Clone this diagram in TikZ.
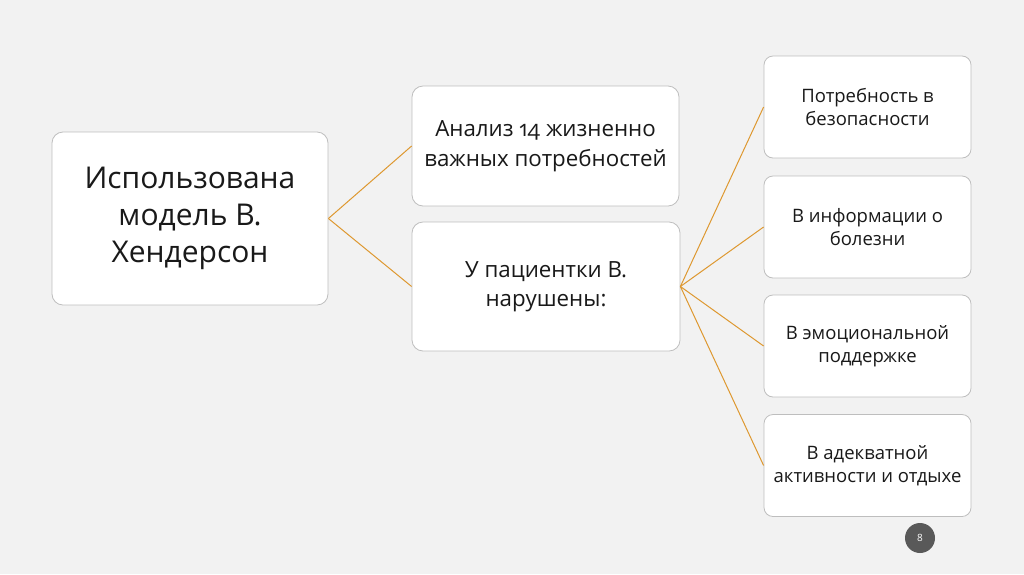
\documentclass[tikz,border=0pt]{standalone}
\usepackage{fontspec}
\setmainfont[Numbers=OldStyle]{Open Sans}
\definecolor{bg}{RGB}{242,242,242}
\definecolor{edge}{RGB}{190,190,190}
\definecolor{link}{RGB}{222,152,48}
\definecolor{pg}{RGB}{89,89,89}
\begin{document}
\begin{tikzpicture}[x=1pt,y=-1pt,
  box/.style={draw=edge,line width=0.8pt,fill=white,rounded corners=11pt,align=center,inner sep=0pt,text=black!90},
  bigbox/.style={box,minimum width=276pt,minimum height=173pt,font=\fontsize{30}{37}\selectfont},
  midbox/.style={box,minimum width=267pt,font=\fontsize{22.3}{29.5}\selectfont},
  smallbox/.style={box,minimum width=207pt,minimum height=102pt,rounded corners=9pt,font=\fontsize{18.5}{23}\selectfont},
  conn/.style={draw=link,line width=1pt}]
\fill[bg] (0,0) rectangle (1024,574);
\useasboundingbox (0,0) rectangle (1024,574);
\node[bigbox] (main) at (190,218.5) {Использована\\модель В.\\Хендерсон};
\node[midbox,minimum height=120pt] (anal) at (545.5,146) {Анализ 14 жизненно\\важных потребностей};
\node[midbox,minimum height=129pt,minimum width=268pt] (pat) at (546,286.5) {У пациентки В.\\нарушены:};
\node[smallbox] (r1) at (867.5,107) {Потребность в\\безопасности};
\node[smallbox] (r2) at (867.5,227) {В информации о\\болезни};
\node[smallbox] (r3) at (867.5,346) {В эмоциональной\\поддержке};
\node[smallbox] (r4) at (867.5,465.5) {В адекватной\\активности и отдыхе};
\draw[conn] (main.east) -- (anal.west);
\draw[conn] (main.east) -- (pat.west);
\foreach \r in {r1,r2,r3,r4}{\draw[conn] (pat.east) -- (\r.west);}
\node[circle,fill=pg,minimum size=30pt,inner sep=0pt,text=white,font=\fontsize{10}{12}\selectfont] (page) at (920,538) {8};
\end{tikzpicture}
\end{document}
